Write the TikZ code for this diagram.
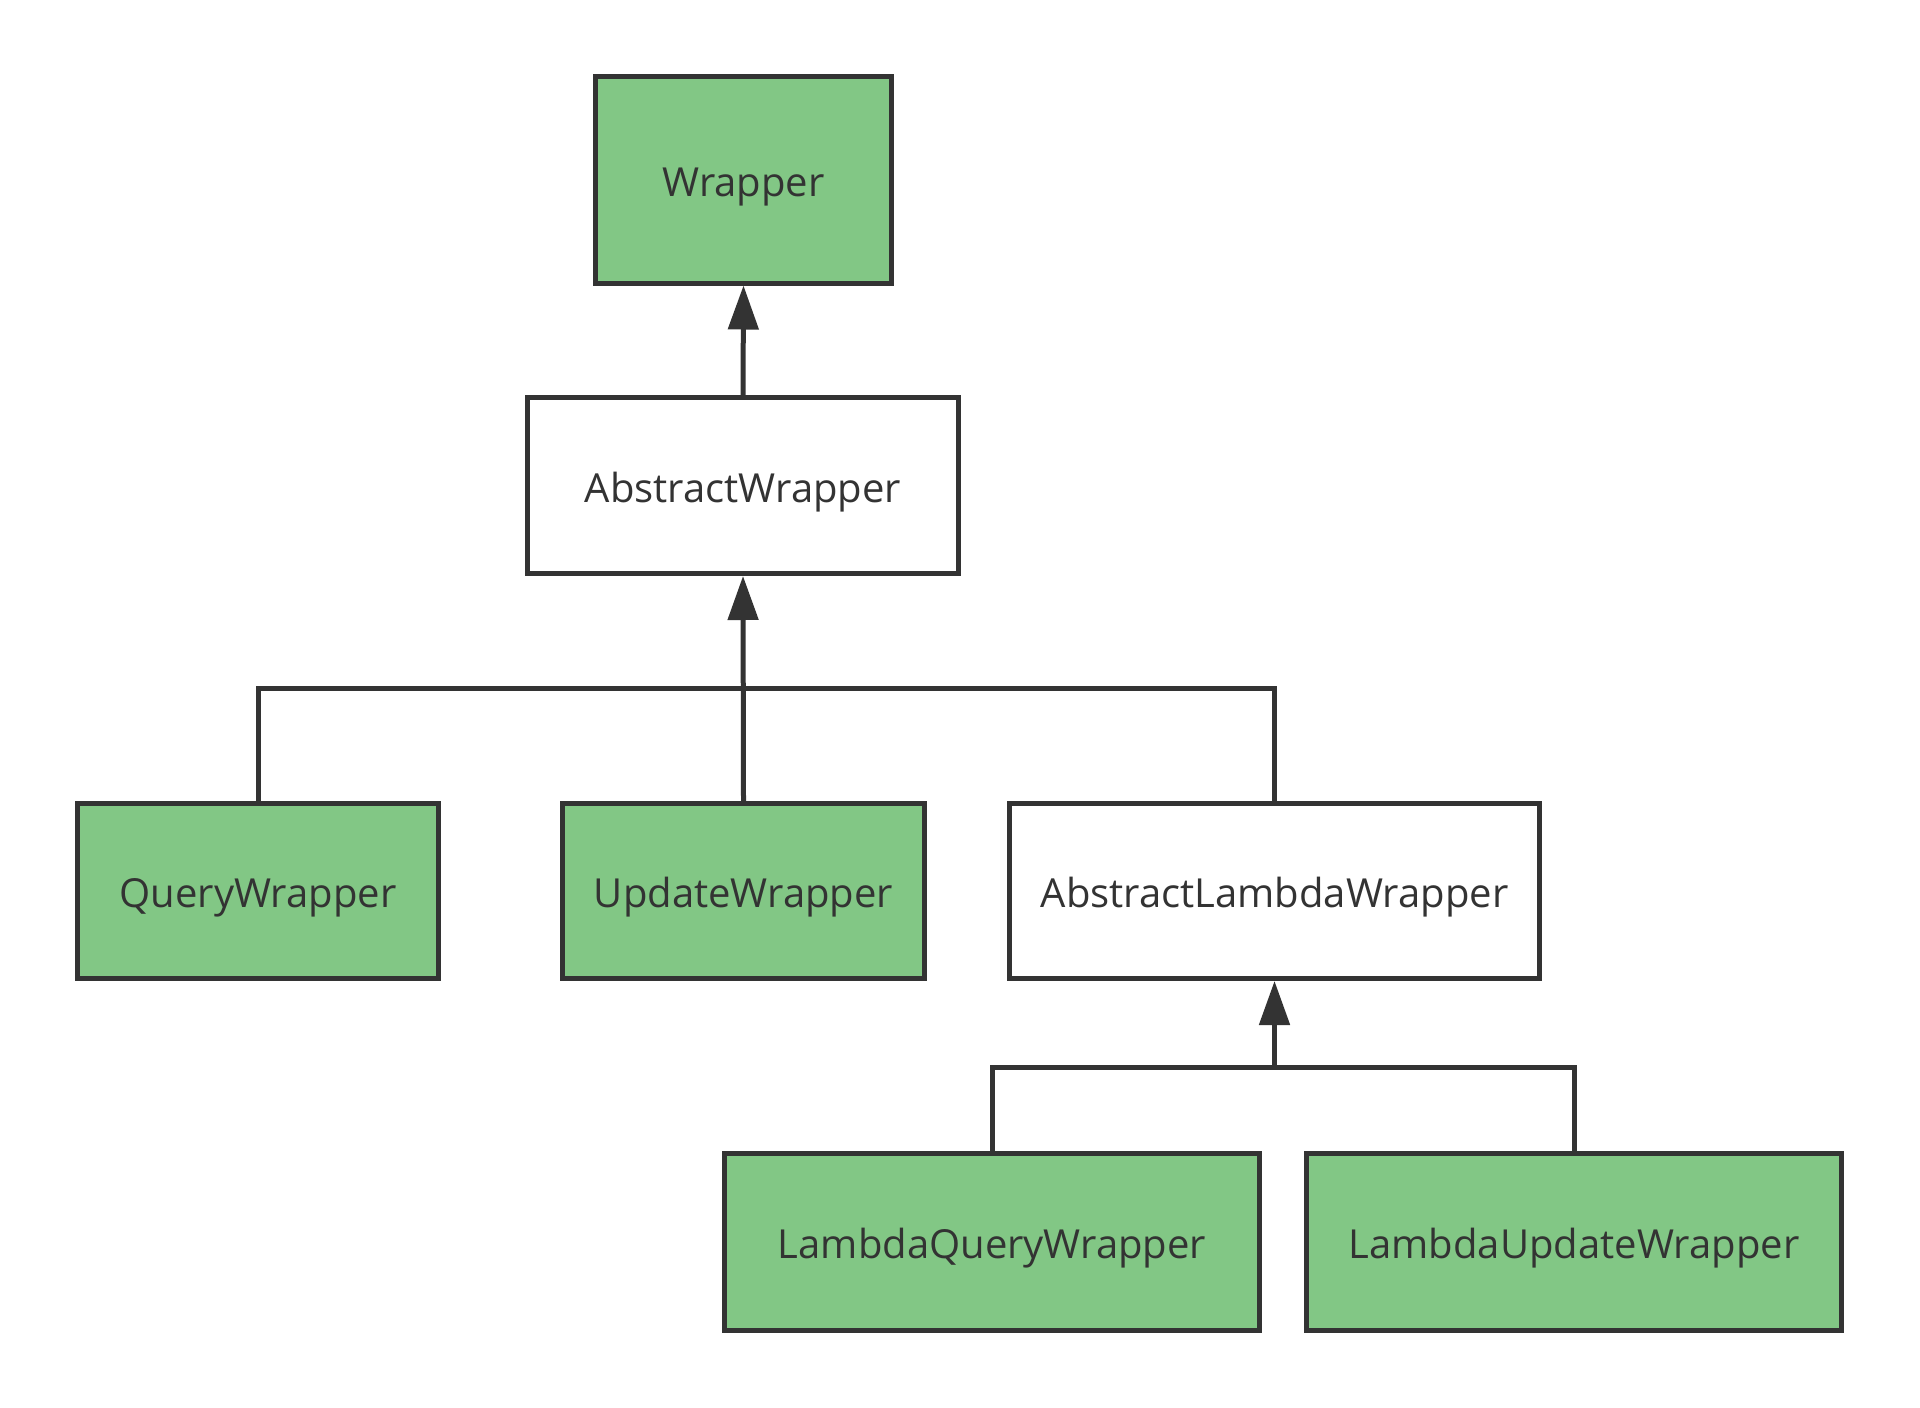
\documentclass[tikz,border=0pt]{standalone}
\usepackage{fontspec}
\setmainfont{Open Sans}
\usetikzlibrary{arrows.meta}
\definecolor{boxgreen}{RGB}{130,199,133}
\definecolor{ink}{RGB}{51,51,51}
\begin{document}
\begin{tikzpicture}[x=0.5pt,y=-0.5pt,
  cls/.style={draw=ink, line width=2.5pt, rectangle, inner sep=0pt,
    font=\fontsize{20}{24}\selectfont, text=ink, text height=16.5pt, text depth=0pt},
  greenbox/.style={cls, fill=boxgreen},
  whitebox/.style={cls, fill=white},
  conn/.style={draw=ink, line width=2.5pt, line join=miter},
  arr/.style={conn, -{Triangle[length=22pt,width=15pt]}}]
\fill[fill=white] (0,0) rectangle (1920,1407);
\useasboundingbox (0,0) rectangle (1920,1407);
% nodes (sizes in pt = px/2, minus border)
\node[greenbox, minimum width=148pt, minimum height=103pt] (w) at (743.5,180) {Wrapper};
\node[whitebox, minimum width=215.5pt, minimum height=88pt] (aw) at (743,485.5) {AbstractWrapper};
\node[greenbox, minimum width=180.5pt, minimum height=87.5pt] (q) at (258,891) {QueryWrapper};
\node[greenbox, minimum width=181pt, minimum height=87.5pt] (u) at (743.5,891) {UpdateWrapper};
\node[whitebox, minimum width=265pt, minimum height=87.5pt] (al) at (1274.5,891) {AbstractLambdaWrapper};
\node[greenbox, minimum width=267.5pt, minimum height=88.5pt] (lq) at (992,1241.5) {LambdaQueryWrapper};
\node[greenbox, minimum width=267.5pt, minimum height=88.5pt] (lu) at (1574,1241.5) {LambdaUpdateWrapper};
% connectors
\draw[arr] (aw.north) -- (w.south);
\coordinate (b1) at (743.5,688);
\draw[conn] (q.north) |- (b1) -| (al.north);
\draw[arr] (u.north) -- (aw.south);
\coordinate (b2) at (1274.5,1067);
\draw[conn] (lq.north) |- (b2) -| (lu.north);
\draw[arr] (b2) -- (al.south);
\end{tikzpicture}
\end{document}
